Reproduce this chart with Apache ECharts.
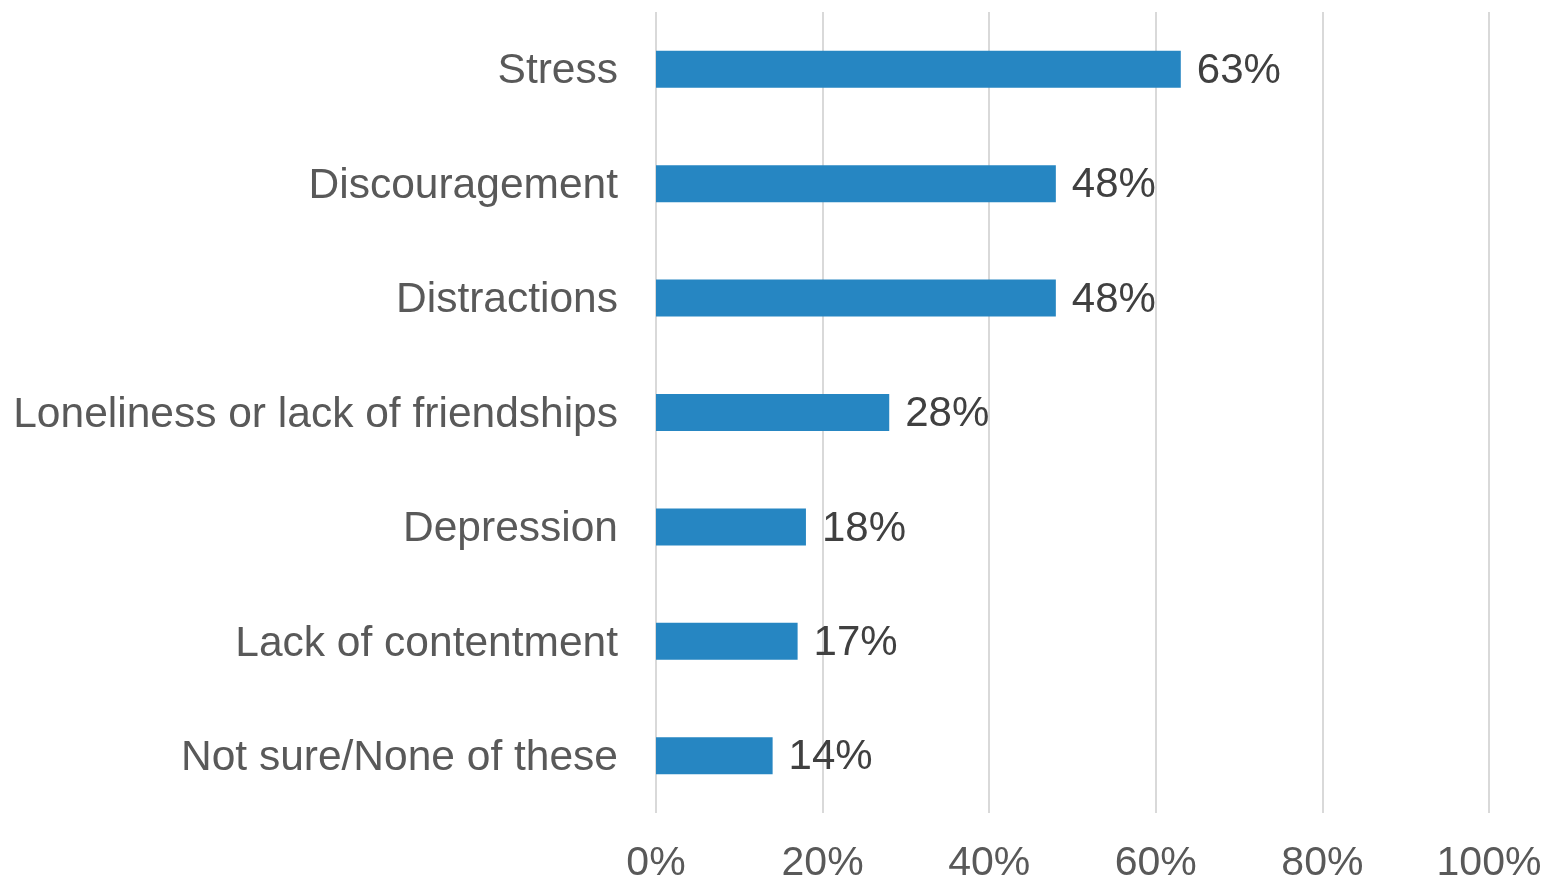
<!DOCTYPE html>
<html><head><meta charset="utf-8">
<script src="https://cdn.jsdelivr.net/npm/echarts@6/dist/echarts.min.js"></script>
<style>html,body{margin:0;padding:0;background:#fff}#c{width:1548px;height:884px}</style>
</head><body><div id="c"></div>
<script>
var categories = ["Stress","Discouragement","Distractions","Loneliness or lack of friendships","Depression","Lack of contentment","Not sure/None of these"];
var values = [63,48,48,28,18,17,14];
var tickValues = [0,20,40,60,80,100];
var chart = echarts.init(document.getElementById('c'));
chart.setOption({
  animation:false,
  grid:{left:656,right:59,top:12,bottom:68,containLabel:false},
  xAxis:{type:'value',min:0,max:100,interval:20,
    axisLine:{show:false},axisTick:{show:false},
    splitLine:{lineStyle:{color:'#D9D9D9',width:2}},
    axisLabel:{formatter:'{value}%',color:'#595959',fontSize:41,fontFamily:'Liberation Sans, Arial, sans-serif',margin:30}},
  yAxis:{type:'category',data:categories,inverse:true,
    axisLine:{show:false},axisTick:{show:false},
    axisLabel:{margin:38,formatter:function(v){return '{a|'+v+'}';},
      rich:{a:{color:'#595959',fontSize:42.5,fontFamily:'Liberation Sans, Arial, sans-serif',padding:[5,0,0,0]}}}},
  series:[{type:'bar',data:values,barWidth:37,
    itemStyle:{color:'#2686C2'},
    label:{show:true,position:'right',distance:16,formatter:'{c}%',color:'#404040',fontSize:42,fontFamily:'Liberation Sans, Arial, sans-serif',offset:[0,2]}}]
});
</script></body></html>
